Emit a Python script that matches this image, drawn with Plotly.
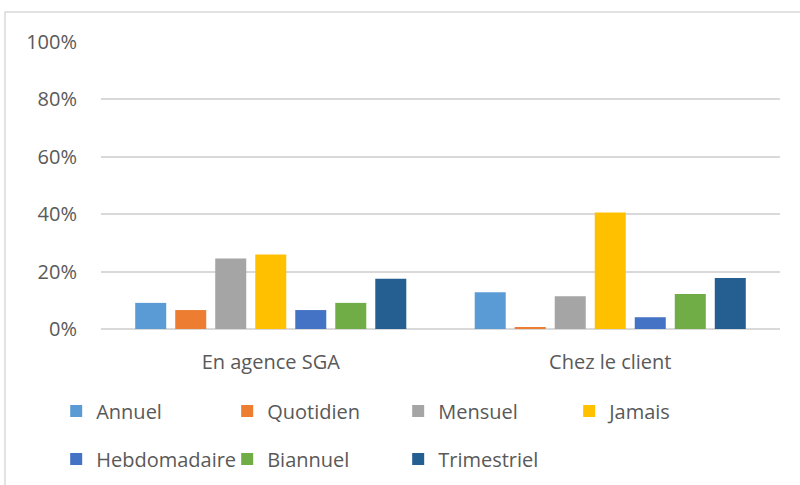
import plotly.graph_objects as go

categories = ["En agence SGA", "Chez le client"]
series_names = ["Annuel", "Quotidien", "Mensuel", "Jamais", "Hebdomadaire", "Biannuel", "Trimestriel"]
annuel = [0.091, 0.128]
quotidien = [0.066, 0.007]
mensuel = [0.246, 0.114]
jamais = [0.260, 0.406]
hebdomadaire = [0.066, 0.041]
biannuel = [0.091, 0.122]
trimestriel = [0.175, 0.178]
series_values = [annuel, quotidien, mensuel, jamais, hebdomadaire, biannuel, trimestriel]
colors = ["#5B9BD5", "#ED7D31", "#A5A5A5", "#FFC000", "#4472C4", "#70AD47", "#255E91"]
tick_vals = [0, 0.2, 0.4, 0.6, 0.8, 1.0]

FONT = "Open Sans"
TXT = "#595959"
FS = 20

fig = go.Figure()
for i, (name, vals, col) in enumerate(zip(series_names, series_values, colors)):
    fig.add_trace(go.Bar(
        name=name, x=categories, y=vals,
        marker=dict(color=col, line=dict(width=0)),
        legend="legend" if i < 4 else "legend2",
    ))

legend_common = dict(
    orientation="h", xanchor="left", yanchor="middle",
    entrywidth=126, entrywidthmode="pixels",
    font=dict(family=FONT, size=FS, color=TXT),
    bgcolor="rgba(0,0,0,0)", borderwidth=0,
    itemclick=False,
)

fig.update_layout(
    width=800, height=485,
    margin=dict(l=101, r=20, t=42, b=156, autoexpand=False),
    paper_bgcolor="white", plot_bgcolor="white",
    barmode="group", bargap=0.175, bargroupgap=0.225,
    font=dict(family=FONT, size=FS, color=TXT),
    legend=dict(x=-0.066, y=-0.2857, **legend_common),
    legend2=dict(x=-0.066, y=-0.453, **legend_common),
    xaxis=dict(
        showgrid=False, showline=False, zeroline=False,
        ticks="outside", ticklen=15, tickcolor="rgba(0,0,0,0)",
        tickfont=dict(family=FONT, size=FS, color=TXT),
    ),
    yaxis=dict(
        range=[0, 1], tickvals=tick_vals, tickformat=".0%",
        showgrid=True, gridcolor="#D9D9D9", gridwidth=2,
        zeroline=True, zerolinecolor="#D9D9D9", zerolinewidth=2,
        showline=False,
        ticks="outside", ticklen=19, tickcolor="rgba(0,0,0,0)",
        tickfont=dict(family=FONT, size=FS, color=TXT),
    ),
    shapes=[dict(
        type="rect", xref="paper", yref="paper",
        x0=-0.1414, y0=-0.7, x1=1.2, y1=1.1045,
        line=dict(color="#D9D9D9", width=1.5), fillcolor="rgba(0,0,0,0)",
        layer="below",
    )],
)

fig.write_html("out.html", config={"displayModeBar": False},
               post_script="document.body.style.margin='0';")
